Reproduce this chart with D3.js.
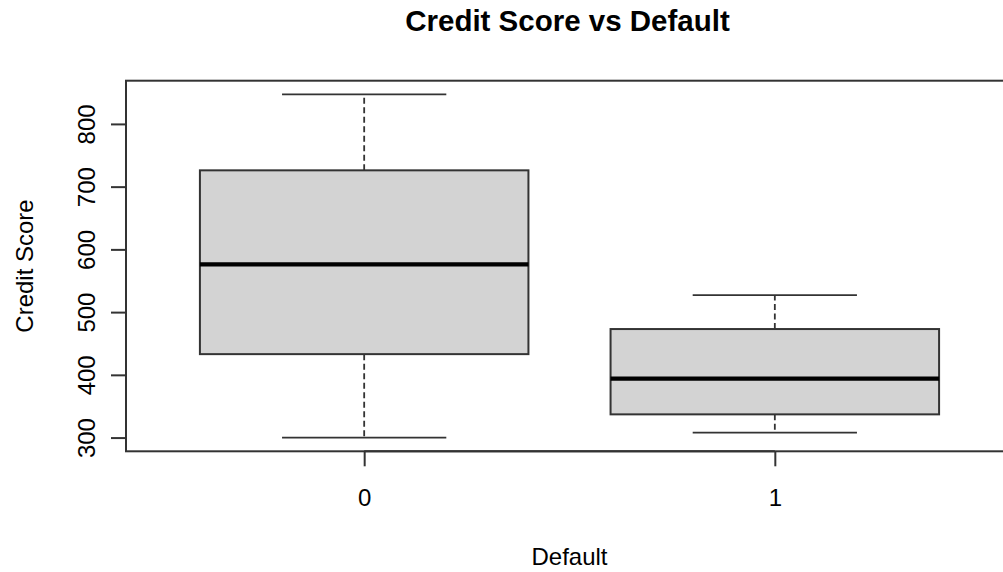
<!DOCTYPE html>
<html>
<head>
<meta charset="utf-8">
<script src="https://cdn.jsdelivr.net/npm/d3@7"></script>
<style>
  html, body { margin: 0; padding: 0; background: #fff; }
  svg { display: block; }
  text { font-family: "Liberation Sans", Arial, sans-serif; fill: #000; }
</style>
</head>
<body>
<svg id="chart" width="1003" height="572"></svg>
<script>
// Five-number summaries of credit score for each default group
const groups   = ["0", "1"];
const whiskLo  = [300, 308];
const q1       = [433, 337];
const medians  = [576, 394];
const q3       = [726, 473];
const whiskHi  = [847, 527];
const yTicks   = [300, 400, 500, 600, 700, 800];

const title  = "Credit Score vs Default";
const xTitle = "Default";
const yTitle = "Credit Score";

const svg = d3.select("#chart");
const plot = { left: 126, right: 1013, top: 80.7, bottom: 451.3 };
const ink = "#333";
const labelSize = "24px";

// Category positions 1..n, padded like a base-graphics boxplot
const n = groups.length;
const xPad = n * 0.04;
const x = d3.scaleLinear()
  .domain([0.5 - xPad, n + 0.5 + xPad])
  .range([plot.left, plot.right]);

const lo = d3.min(whiskLo), hi = d3.max(whiskHi);
const yPad = (hi - lo) * 0.04;
const y = d3.scaleLinear()
  .domain([lo - yPad, hi + yPad])
  .range([plot.bottom, plot.top]);

const data = groups.map((g, i) => ({
  g, pos: i + 1,
  lo: whiskLo[i], q1: q1[i], med: medians[i], q3: q3[i], hi: whiskHi[i]
}));

const boxHalf = 0.4, capHalf = 0.2;
const marks = svg.append("g");

const b = marks.selectAll("g.box").data(data).join("g").attr("class", "box");

// dashed whiskers
b.append("line")
  .attr("x1", d => x(d.pos)).attr("x2", d => x(d.pos))
  .attr("y1", d => y(d.q3)).attr("y2", d => y(d.hi))
  .attr("stroke", ink).attr("stroke-width", 1.8).attr("stroke-dasharray", "6,3.5");
b.append("line")
  .attr("x1", d => x(d.pos)).attr("x2", d => x(d.pos))
  .attr("y1", d => y(d.q1)).attr("y2", d => y(d.lo))
  .attr("stroke", ink).attr("stroke-width", 1.8).attr("stroke-dasharray", "6,3.5");

// whisker caps
["lo", "hi"].forEach(k => {
  b.append("line")
    .attr("x1", d => x(d.pos - capHalf)).attr("x2", d => x(d.pos + capHalf))
    .attr("y1", d => y(d[k])).attr("y2", d => y(d[k]))
    .attr("stroke", ink).attr("stroke-width", 1.8);
});

// boxes
b.append("rect")
  .attr("x", d => x(d.pos - boxHalf))
  .attr("width", d => x(d.pos + boxHalf) - x(d.pos - boxHalf))
  .attr("y", d => y(d.q3))
  .attr("height", d => y(d.q1) - y(d.q3))
  .attr("fill", "#d3d3d3").attr("stroke", ink).attr("stroke-width", 2);

// medians
b.append("line")
  .attr("x1", d => x(d.pos - boxHalf)).attr("x2", d => x(d.pos + boxHalf))
  .attr("y1", d => y(d.med)).attr("y2", d => y(d.med))
  .attr("stroke", "#000").attr("stroke-width", 4.2);

// plot frame
svg.append("rect")
  .attr("x", plot.left).attr("y", plot.top)
  .attr("width", plot.right - plot.left).attr("height", plot.bottom - plot.top)
  .attr("fill", "none").attr("stroke", ink).attr("stroke-width", 2);

// y axis
const yAxis = d3.axisLeft(y).tickValues(yTicks).tickSize(15).tickPadding(0).tickFormat(d3.format("d"));
const gy = svg.append("g").attr("transform", `translate(${plot.left},0)`).call(yAxis);
gy.select(".domain")
  .attr("d", `M0,${y(yTicks[0])}V${y(yTicks[yTicks.length - 1])}`)
  .attr("stroke", ink).attr("stroke-width", 2);
gy.selectAll(".tick line").attr("stroke", ink).attr("stroke-width", 2);
gy.selectAll(".tick text")
  .attr("x", null).attr("dy", null)
  .attr("text-anchor", "middle")
  .attr("transform", "translate(-31,0) rotate(-90)")
  .style("font-size", labelSize);

// x axis
const xAxis = d3.axisBottom(x).tickValues(data.map(d => d.pos))
  .tickSize(15).tickPadding(0).tickFormat((d, i) => groups[i]);
const gx = svg.append("g").attr("transform", `translate(0,${plot.bottom})`).call(xAxis);
gx.select(".domain")
  .attr("d", `M${x(1)},0H${x(n)}`)
  .attr("stroke", ink).attr("stroke-width", 2);
gx.selectAll(".tick line").attr("stroke", ink).attr("stroke-width", 2);
gx.selectAll(".tick text")
  .attr("y", 54.5).attr("dy", null)
  .style("font-size", labelSize);

// titles
const cx = (plot.left + plot.right) / 2;
svg.append("text")
  .attr("x", cx - 2).attr("y", 30.5)
  .attr("text-anchor", "middle")
  .style("font-size", "29.5px").style("font-weight", "bold")
  .text(title);
svg.append("text")
  .attr("x", cx).attr("y", 565)
  .attr("text-anchor", "middle")
  .style("font-size", labelSize)
  .text(xTitle);
svg.append("text")
  .attr("transform", `translate(33,${(plot.top + plot.bottom) / 2}) rotate(-90)`)
  .attr("text-anchor", "middle")
  .style("font-size", labelSize)
  .text(yTitle);
</script>
</body>
</html>
